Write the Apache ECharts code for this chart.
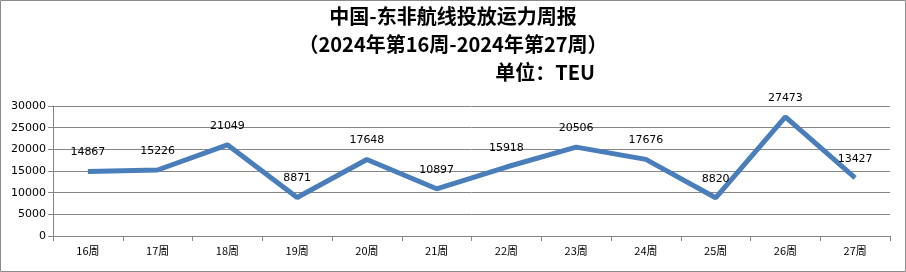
<!DOCTYPE html>
<html><head><meta charset="utf-8">
<script src="https://cdn.jsdelivr.net/npm/echarts@6/dist/echarts.min.js"></script>
<style>html,body{margin:0;padding:0;background:#fff}#c{width:906px;height:272px}</style>
</head><body><div id="c"></div>
<script>
const categories = ['16周','17周','18周','19周','20周','21周','22周','23周','24周','25周','26周','27周'];
const capacity = [14867, 15226, 21049, 8871, 17648, 10897, 15918, 20506, 17676, 8820, 27473, 13427];
const yTicks = { min: 0, max: 30000, interval: 5000 };
const titleLines = ['中国-东非航线投放运力周报', '（2024年第16周-2024年第27周）', '单位：TEU'];

const chart = echarts.init(document.getElementById('c'));
const font = '"Noto Sans CJK SC", "Noto Sans", sans-serif';
const numFont = '"DejaVu Sans", "Noto Sans", sans-serif';
chart.setOption({
  animation: false,
  backgroundColor: '#fff',
  textStyle: { fontFamily: font },
  graphic: [
    { type: 'rect', shape: { x: 0.5, y: 0.5, width: 905, height: 271 }, style: { fill: 'none', stroke: '#8c8c8c', lineWidth: 1 }, z: 100 },
    { type: 'text', left: 'center', top: 6, style: { text: titleLines[0], font: 'bold 20px ' + font, fill: '#000' } },
    { type: 'text', left: 'center', top: 34, style: { text: titleLines[1], font: 'bold 20px ' + font, fill: '#000' } },
    { type: 'text', right: 311, top: 62, style: { text: titleLines[2], font: 'bold 20px ' + font, fill: '#000' } }
  ],
  grid: { left: 53, right: 16, top: 106, bottom: 36 },
  xAxis: {
    type: 'category',
    data: categories,
    boundaryGap: true,
    axisLine: { lineStyle: { color: '#868686' } },
    axisTick: { show: true, length: 5, inside: false, lineStyle: { color: '#868686' } },
    axisLabel: { color: '#000', fontSize: 11, margin: 9 }
  },
  yAxis: {
    type: 'value',
    min: yTicks.min, max: yTicks.max, interval: yTicks.interval,
    axisLine: { show: true, lineStyle: { color: '#868686' } },
    axisTick: { show: true, length: 5, lineStyle: { color: '#868686' } },
    axisLabel: { color: '#000', fontSize: 11, margin: 7, fontFamily: numFont, formatter: v => String(v) },
    splitLine: { lineStyle: { color: '#868686', width: 1 } }
  },
  series: [{
    type: 'line',
    data: capacity,
    symbol: 'circle',
    symbolSize: 1,
    showSymbol: true,
    lineStyle: { color: '#4a7ebb', width: 5 },
    itemStyle: { color: '#4a7ebb', opacity: 0 },
    label: { show: true, position: 'top', distance: 13, color: '#000', fontSize: 11, fontFamily: numFont, opacity: 1 },
    labelLayout: { hideOverlap: false }
  }]
});
</script></body></html>
